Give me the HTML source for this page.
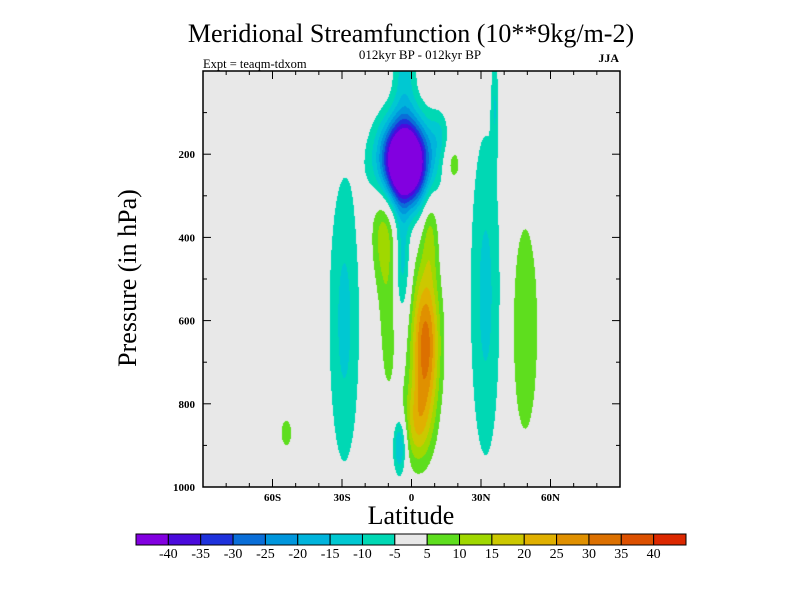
<!DOCTYPE html>
<html><head><meta charset="utf-8"><style>
body{margin:0;background:#fff;width:800px;height:600px;overflow:hidden;font-family:"Liberation Serif",serif}
svg text{font-family:"Liberation Serif",serif}
</style></head><body>
<div style="position:relative;width:800px;height:600px">
<canvas id="cv" width="417" height="416" style="position:absolute;left:203px;top:71px"></canvas>
<svg id="sv" width="800" height="600" style="position:absolute;left:0;top:0"></svg>
</div>
<script>
// Data
const levels = [-40,-35,-30,-25,-20,-15,-10,-5,5,10,15,20,25,30,35,40];
const colors = ["#8200e0","#4a0adc","#1e32dc","#0a6ed8","#0096dc","#00b4dc","#00c8d2","#00d8b4","#e8e8e8","#5ede1e","#a0d800","#ccc800","#e0b000","#e09000","#dc7000","#dc5000","#dc2800"];
const latTicks = [-60,-30,0,30,60];
const latLabels = ["60S","30S","0","30N","60N"];
const pTicks = [200,400,600,800,1000];
// blob centers (lat, p), amplitudes, spreads
const blobLat = [-29,-12,-10,-3,-3,-4,6,8,2,-5,18,32,36,49,-54,12];
const blobP   = [600,370,620,220,0,460,660,380,850,900,225,540,80,620,870,150];
const blobAmp = [-11.5,13,7,-70,-12,-13,33,10,15,-18,8,-11.5,-8,9.5,7,-7];
const blobSLat= [7,5.5,4.5,10.5,5,3.5,6,3.5,6,3,4,7,1.5,6.5,3.5,4];
const blobSP  = [370,150,210,100,150,140,180,120,100,70,50,420,120,300,50,60];

const X0=203,X1=620,Y0=71,Y1=487;
const xs = lat => X0 + (lat+90)/180*(X1-X0);
const ys = p => Y0 + p/1000*(Y1-Y0);
function field(lat,p){let v=0;for(let i=0;i<blobLat.length;i++){const dx=(lat-blobLat[i])/blobSLat[i],dy=(p-blobP[i])/blobSP[i];v+=blobAmp[i]*Math.exp(-(dx*dx+dy*dy));}return v;}
function colIdx(v){let k=0;while(k<levels.length&&v>=levels[k])k++;return k;}
function hex(c){return [parseInt(c.slice(1,3),16),parseInt(c.slice(3,5),16),parseInt(c.slice(5,7),16)];}
const rgb=colors.map(hex);
const cv=document.getElementById('cv'),ctx=cv.getContext('2d');
const W=cv.width,H=cv.height,img=ctx.createImageData(W,H);
for(let j=0;j<H;j++){const p=(j+0.5)/H*1000;for(let i=0;i<W;i++){const lat=-90+(i+0.5)/W*180;const c=rgb[colIdx(field(lat,p))];const o=(j*W+i)*4;img.data[o]=c[0];img.data[o+1]=c[1];img.data[o+2]=c[2];img.data[o+3]=255;}}
ctx.putImageData(img,0,0);

const sv=document.getElementById('sv');const NS="http://www.w3.org/2000/svg";
function mk(t,a,txt){const e=document.createElementNS(NS,t);for(const k in a)e.setAttribute(k,a[k]);if(txt!==undefined)e.textContent=txt;sv.appendChild(e);return e;}
let e;
e=mk('rect',{x:X0,y:Y0,width:X1-X0,height:Y1-Y0,fill:'none',stroke:'#000','stroke-width':1.5});


for(let lat=-80;lat<=80;lat+=10){const x=xs(lat);const L=(lat%30===0)?8:4;
 e=mk('line',{x1:x,y1:Y1,x2:x,y2:Y1-L,stroke:'#000'});
 
 
 e=mk('line',{x1:x,y1:Y0,x2:x,y2:Y0+L,stroke:'#000'});
 
 }
latTicks.forEach((lat,i)=>{e=mk('text',{x:xs(lat),y:501,'font-size':11,'font-weight':'bold','text-anchor':'middle'},latLabels[i]);
 
 });
for(let p=100;p<1000;p+=100){const y=ys(p);const L=(p%200===0)?8:4;
 e=mk('line',{x1:X0,y1:y,x2:X0+L,y2:y,stroke:'#000'});
 
 
 e=mk('line',{x1:X1,y1:y,x2:X1-L,y2:y,stroke:'#000'});
 
 }
pTicks.forEach(p=>{e=mk('text',{x:195,y:ys(p)+4,'font-size':11,'font-weight':'bold','text-anchor':'end'},String(p));
 
 });
e=mk('text',{x:411,y:42,'font-size':26,'text-anchor':'middle'},'Meridional Streamfunction (10**9kg/m-2)');


e=mk('text',{x:420,y:59,'font-size':13,'text-anchor':'middle'},'012kyr BP - 012kyr BP');


e=mk('text',{x:203,y:68,'font-size':12.5},'Expt = teaqm-tdxom');


e=mk('text',{x:619,y:62,'font-size':12,'font-weight':'bold','text-anchor':'end'},'JJA');


e=mk('text',{x:411,y:524,'font-size':26,'text-anchor':'middle'},'Latitude');


e=mk('text',{x:136,y:278,'font-size':26,'text-anchor':'middle',transform:'rotate(-90 136 278)'},'Pressure (in hPa)');


const cbX=136,cbW=550,cbY=534,cbH=11,bw=cbW/colors.length;
colors.forEach((c,i)=>{e=mk('rect',{x:cbX+i*bw,y:cbY,width:bw,height:cbH,fill:c,stroke:'#000','stroke-width':1});
 
 });
levels.forEach((l,i)=>{e=mk('text',{x:cbX+(i+1)*bw,y:558,'font-size':14,'text-anchor':'middle'},String(l));
 
 });
</script>
</body></html>
